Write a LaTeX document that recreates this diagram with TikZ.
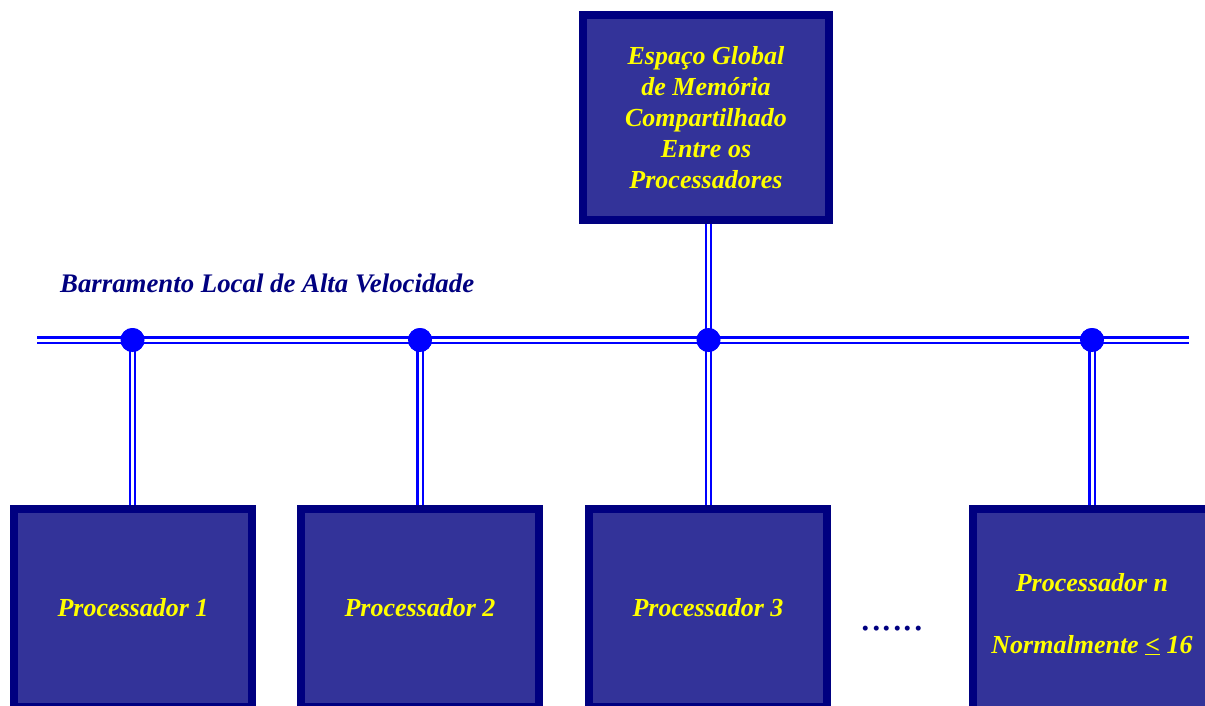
\documentclass[tikz,border=0pt]{standalone}
\usepackage{fontspec}
\setmainfont{Liberation Serif}
\definecolor{boxfill}{HTML}{333399}
\definecolor{boxline}{HTML}{000080}
\definecolor{busblue}{HTML}{0000FF}
\definecolor{txtyellow}{HTML}{FFFF00}
\begin{document}
\begin{tikzpicture}[x=1pt,y=-1pt,
  box/.style={draw=boxline,fill=boxfill,line width=8pt,inner sep=0pt,
    minimum width=238pt,minimum height=198pt,text=txtyellow,align=center,
    font=\fontsize{26}{31}\selectfont\bfseries\itshape},
  bus/.style={draw=busblue,double=white,double distance=3pt,line width=2.3pt},
  dot/.style={circle,fill=busblue,inner sep=0pt,minimum size=24pt}]
\useasboundingbox (0,0) rectangle (1205,706);
\clip (0,0) rectangle (1205,706);
\fill[white] (0,0) rectangle (1205,706);
% boxes
\node[box,minimum width=246pt,minimum height=205pt] (mem) at (706,117.5)
  {Espaço Global\\de Memória\\Compartilhado\\Entre os\\Processadores};
\node[box] (p1) at (133,608) {Processador 1};
\node[box] (p2) at (420,608) {Processador 2};
\node[box] (p3) at (708,608) {Processador 3};
\node[box,minimum height=210pt] (pn) at (1092,614) {Processador n\\[31pt]Normalmente \underline{<} 16};
% bus
\coordinate (bl) at (37,340);
\coordinate (br) at (1189,340);
\node[dot] (d1) at (132.5,340) {};
\node[dot] (d2) at (420,340) {};
\node[dot] (d3) at (708.5,340) {};
\node[dot] (dn) at (1092,340) {};
\draw[bus] (bl) -- (br);
\draw[bus] (d1.center) -- (d1.center |- p1.north);
\draw[bus] (d2.center) -- (d2.center |- p2.north);
\draw[bus] (d3.center) -- (d3.center |- p3.north);
\draw[bus] (dn.center) -- (dn.center |- pn.north);
\draw[bus] (d3.center) -- (d3.center |- mem.south);
\foreach \d in {d1,d2,d3,dn} \fill[busblue] (\d) circle (12pt);
% labels
\node[anchor=base west,inner sep=0pt,text=boxline,
  font=\fontsize{26.8}{31}\selectfont\bfseries\itshape] (lbl) at (60,292)
  {Barramento Local de Alta Velocidade};
\node[anchor=base,inner sep=0pt,text=boxline,font=\fontsize{42}{50}\selectfont]
  (dots) at (892,630) {......};
\end{tikzpicture}
\end{document}
